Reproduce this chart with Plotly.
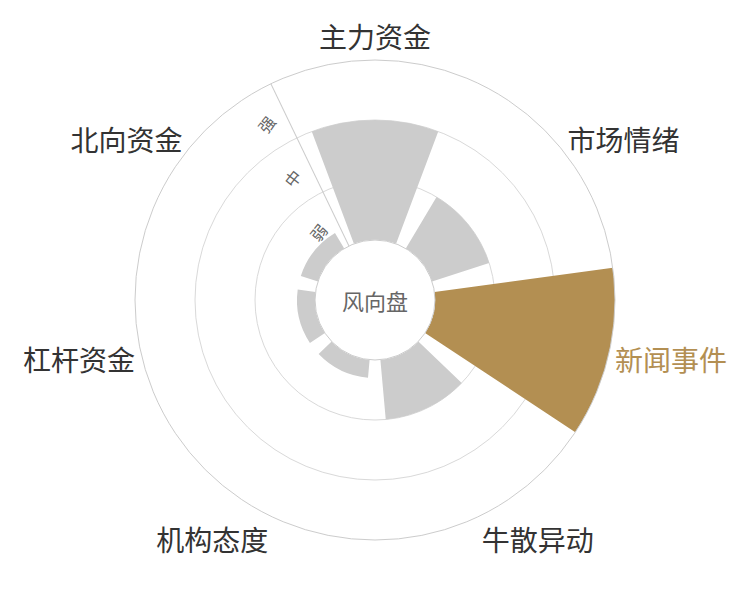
import plotly.graph_objects as go

# 风向盘 data
categories = ["主力资金", "市场情绪", "新闻事件", "牛散异动", "机构态度", "杠杆资金", "北向资金"]
strength = [2.0, 1.0, 3.0, 1.0, 0.3, 0.3, 0.3]
highlight = "新闻事件"
level_labels = ["弱", "中", "强"]
level_pos = [0.5, 1.5, 2.5]
grid_levels = [0, 1, 2]

GOLD = "#b38f52"
GREY = "#cccccc"
FONT = "Noto Sans CJK SC"

bar_colors = [GOLD if c == highlight else GREY for c in categories]
tick_text = [
    "<span style='color:%s'>%s</span>" % (GOLD, c) if c == highlight else c
    for c in categories
]

fig = go.Figure()

# grid circles live on an underlying polar subplot
fig.add_trace(go.Barpolar(r=[0], theta=[categories[0]], subplot="polar",
                          hoverinfo="skip", showlegend=False, marker_color="rgba(0,0,0,0)"))

fig.add_trace(go.Barpolar(
    r=strength,
    theta=categories,
    subplot="polar2",
    marker=dict(color=bar_colors, line=dict(width=0)),
    showlegend=False,
))

dom = dict(x=[127 / 750, 607 / 750], y=[68 / 600, 548 / 600])

fig.update_layout(
    width=750, height=600,
    margin=dict(l=0, r=0, t=0, b=0),
    paper_bgcolor="white",
    font=dict(family=FONT, color="#333333"),
    polar=dict(
        domain=dom, hole=0.25, bgcolor="white",
        radialaxis=dict(range=[0, 3], tickvals=grid_levels, showticklabels=False,
                        showgrid=True, gridcolor="#d9d9d9", gridwidth=1,
                        showline=False, ticks=""),
        angularaxis=dict(type="category", categoryarray=categories,
                         rotation=90, direction="clockwise",
                         showgrid=False, showline=False, showticklabels=False, ticks=""),
    ),
    polar2=dict(
        domain=dom, hole=0.25, bgcolor="rgba(0,0,0,0)", bargap=0.2,
        radialaxis=dict(range=[0, 3], tickvals=level_pos, ticktext=level_labels,
                        showgrid=False, showline=True, linecolor="#cccccc", linewidth=1,
                        angle=90 + 360 / 14, side="counterclockwise", ticks="",
                        tickangle=90 - 360 / 14,
                        tickfont=dict(size=16, color="#666666")),
        angularaxis=dict(type="category", categoryarray=categories,
                         tickvals=categories, ticktext=tick_text,
                         rotation=90, direction="clockwise",
                         showgrid=False, showline=True, linecolor="#cccccc", linewidth=1,
                         ticks="", tickfont=dict(size=28, color="#333333")),
    ),
    annotations=[dict(
        x=(dom["x"][0] + dom["x"][1]) / 2, y=(dom["y"][0] + dom["y"][1]) / 2,
        xref="paper", yref="paper", text="风向盘", showarrow=False,
        font=dict(size=22, color="#666666", family=FONT),
    )],
)

fig.write_html("out.html")
